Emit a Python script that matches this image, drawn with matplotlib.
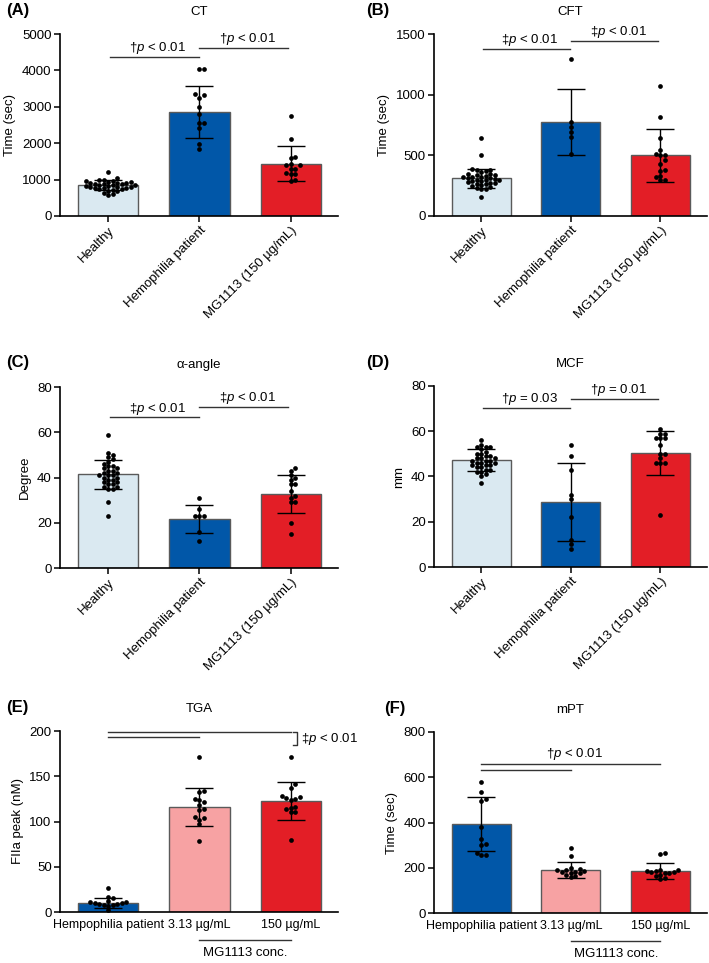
import numpy as np
import matplotlib
matplotlib.use('Agg')
import matplotlib.pyplot as plt
from matplotlib.transforms import blended_transform_factory

plt.rcParams['font.family'] = ['Liberation Sans', 'DejaVu Sans']
plt.rcParams['mathtext.fontset'] = 'custom'
plt.rcParams['mathtext.rm'] = 'Liberation Sans'
plt.rcParams['mathtext.it'] = 'Liberation Sans:italic'
plt.rcParams['font.size'] = 9

# ---------------- data ----------------
groups_abcd = ["Healthy", "Hemophilia patient", "MG1113 (150 µg/mL)"]
groups_ef = ["Hempophilia patient", "3.13 µg/mL", "150 µg/mL"]

# (A) CT
ct_means = [850, 2860, 1440]
ct_sds = [140, 715, 475]
ct_healthy = [1220, 1050, 1000, 980, 960, 950, 940, 930, 920, 910, 900, 890, 880, 870,
              860, 850, 840, 830, 820, 810, 800, 790, 780, 770, 760, 750, 740, 720, 700,
              680, 640, 600, 570]
ct_hemo = [4030, 4030, 3340, 3330, 3240, 3000, 2790, 2545, 2545, 2430, 1980, 1830]
ct_mg = [2760, 2125, 1610, 1600, 1420, 1400, 1390, 1300, 1290, 1180, 1160, 1150, 1000, 960]

# (B) CFT
cft_means = [310, 775, 500]
cft_sds = [80, 272, 218]
cft_healthy = [640, 500, 390, 380, 375, 370, 360, 350, 345, 340, 335, 330, 325, 320, 318,
               315, 310, 305, 300, 298, 295, 290, 285, 280, 275, 270, 265, 260, 255, 250,
               240, 230, 225, 220, 160]
cft_hemo = [1296, 774, 736, 691, 651, 513]
cft_mg = [1075, 820, 640, 540, 510, 505, 500, 460, 430, 380, 370, 330, 320, 300, 295]

# (C) alpha-angle
aa_means = [41.4, 21.7, 32.7]
aa_sds = [6.4, 6.3, 8.2]
aa_healthy = [59, 51, 50, 49, 48, 47, 46, 45, 45, 44, 44, 43, 43, 42, 42, 41, 41, 41, 40, 40,
              39, 39, 38, 38, 37, 37, 36, 36, 35, 35, 29, 23]
aa_hemo = [31, 26, 23, 23, 23, 16, 12]
aa_mg = [44, 43, 41, 40, 39, 37, 37, 34, 32, 31, 29, 29, 20, 15]

# (D) MCF
mcf_means = [47.3, 28.6, 50.5]
mcf_sds = [5.0, 17.3, 9.8]
mcf_healthy = [56, 54, 53, 53, 53, 52, 51, 50, 50, 49, 49, 48, 48, 48, 47, 47, 47, 46, 46, 46,
               45, 45, 45, 44, 44, 43, 43, 42, 42, 41, 40, 37]
mcf_hemo = [54, 49, 43, 32, 30, 22, 12, 10, 8]
mcf_mg = [61, 59, 59, 57, 57, 57, 54, 50, 50, 48, 46, 46, 46, 23]

# (E) TGA
tga_means = [10, 116.5, 122.6]
tga_sds = [6, 21, 20.5]
tga_hemo = [26, 17, 15, 12, 11, 11, 10, 10, 9, 9, 8, 8, 7, 2]
tga_313 = [171, 134, 133, 125, 124, 121, 118, 114, 113, 105, 104, 102, 97, 78]
tga_150 = [171, 141, 137, 128, 127, 126, 125, 124, 116, 115, 114, 110, 110, 80]

# (F) mPT
mpt_means = [392, 190, 184]
mpt_sds = [120, 37, 35]
mpt_hemo = [578, 535, 505, 495, 380, 325, 305, 300, 265, 258, 255]
mpt_313 = [286, 252, 200, 195, 192, 190, 185, 183, 180, 178, 175, 170, 162, 158]
mpt_150 = [267, 260, 190, 188, 186, 185, 183, 180, 178, 175, 170, 165, 155, 150]

LIGHT = '#dae9f1'
BLUE = '#0157a8'
RED = '#e31e26'
PINK = '#f7a2a3'
EDGE = '#5a5a5a'

W, H = 709, 963
fig = plt.figure(figsize=(W / 100, H / 100), dpi=100)


def make_ax(left, right, top, bottom):
    return fig.add_axes([left / W, 1 - bottom / H, (right - left) / W, (bottom - top) / H])


def swarm(vals, px_x, px_y, d=4.5):
    vals = np.asarray(vals, float)
    order = np.argsort(vals)
    placed = []
    offs = np.zeros(len(vals))
    for i in order:
        y = vals[i] * px_y
        cand = 0.0
        for k in range(60):
            cand = 0.0 if k == 0 else ((k + 1) // 2) * d * (1 if k % 2 else -1)
            if all((cand - a) ** 2 + (y - b) ** 2 >= 0.85 * d * d for a, b in placed):
                break
        placed.append((cand, y))
        offs[i] = cand / px_x
    return offs


XL = (-0.53, 2.52)


def panel(ax, means, sds, pts, colors, ylim, yticks, ylabel, title):
    ax.set_xlim(*XL)
    ax.set_ylim(*ylim)
    x = np.arange(3)
    ax.bar(x, means, width=0.66, color=colors, edgecolor=EDGE, linewidth=1.0, zorder=2)
    ax.errorbar(x, means, yerr=sds, fmt='none', ecolor='black', elinewidth=1.0,
                capsize=10, capthick=1.0, zorder=3)
    bb = ax.get_position()
    px_x = bb.width * W / (XL[1] - XL[0])
    px_y = bb.height * H / (ylim[1] - ylim[0])
    for i, p in enumerate(pts):
        offs = swarm(p, px_x, px_y)
        ax.plot(i + offs, p, 'o', color='black', markersize=3.4, markeredgewidth=0,
                zorder=4, clip_on=False)
    ax.set_yticks(yticks)
    ax.set_ylabel(ylabel, fontsize=9.5)
    ax.set_title(title, fontsize=9.5, pad=14)
    for s in ['top', 'right']:
        ax.spines[s].set_visible(False)
    for s in ['left', 'bottom']:
        ax.spines[s].set_linewidth(1.2)
    ax.tick_params(axis='both', width=1.1, length=4, labelsize=9.5, pad=2)
    ax.set_xticks(x)


def sig(ax, x0, x1, h, text, tx):
    ax.plot([x0, x1], [h, h], color='#333333', lw=1.0, clip_on=False, zorder=5)
    ax.annotate(text, xy=(tx, h), xytext=(0, 4), textcoords='offset points',
                ha='center', va='baseline', fontsize=9.5, annotation_clip=False)


# (A)
axA = make_ax(60, 338, 34, 216)
panel(axA, ct_means, ct_sds, [ct_healthy, ct_hemo, ct_mg], [LIGHT, BLUE, RED],
      (0, 5000), [0, 1000, 2000, 3000, 4000, 5000], 'Time (sec)', 'CT')
sig(axA, 0.02, 0.99, 4370, '†$p$ < 0.01', 0.54)
sig(axA, 1.0, 1.97, 4620, '†$p$ < 0.01', 1.53)

# (B)
axB = make_ax(434, 707, 34, 216)
panel(axB, cft_means, cft_sds, [cft_healthy, cft_hemo, cft_mg], [LIGHT, BLUE, RED],
      (0, 1500), [0, 500, 1000, 1500], 'Time (sec)', 'CFT')
sig(axB, 0.02, 0.99, 1376, '‡$p$ < 0.01', 0.54)
sig(axB, 1.0, 1.97, 1442, '‡$p$ < 0.01', 1.53)

# (C)
axC = make_ax(60, 338, 387, 568)
panel(axC, aa_means, aa_sds, [aa_healthy, aa_hemo, aa_mg], [LIGHT, BLUE, RED],
      (0, 80), [0, 20, 40, 60, 80], 'Degree', 'α-angle')
sig(axC, 0.02, 0.99, 66.7, '‡$p$ < 0.01', 0.54)
sig(axC, 1.0, 1.97, 71.2, '‡$p$ < 0.01', 1.53)

# (D)
axD = make_ax(434, 707, 386, 567)
panel(axD, mcf_means, mcf_sds, [mcf_healthy, mcf_hemo, mcf_mg], [LIGHT, BLUE, RED],
      (0, 80), [0, 20, 40, 60, 80], 'mm', 'MCF')
sig(axD, 0.02, 0.99, 70.3, '†$p$ = 0.03', 0.54)
sig(axD, 1.0, 1.97, 74.3, '†$p$ = 0.01', 1.53)

for ax in (axA, axB, axC, axD):
    ax.set_xticklabels(groups_abcd, rotation=45, ha='right', rotation_mode='anchor',
                       fontsize=9.5)

# (E)
axE = make_ax(60, 338, 731, 912)
panel(axE, tga_means, tga_sds, [tga_hemo, tga_313, tga_150], [BLUE, PINK, RED],
      (0, 200), [0, 50, 100, 150, 200], 'FIIa peak (nM)', 'TGA')
axE.plot([0, 2], [199, 199], color='#333333', lw=1.0, clip_on=False)
axE.plot([0, 1], [193, 193], color='#333333', lw=1.0, clip_on=False)
axE.plot([2.03, 2.07, 2.07, 2.03], [199, 199, 184, 184], color='#333333', lw=1.0,
         clip_on=False)
axE.text(2.11, 191, '‡$p$ < 0.01', ha='left', va='center', fontsize=9.5, clip_on=False)

# (F)
axF = make_ax(434, 707, 732, 913)
panel(axF, mpt_means, mpt_sds, [mpt_hemo, mpt_313, mpt_150], [BLUE, PINK, RED],
      (0, 800), [0, 200, 400, 600, 800], 'Time (sec)', 'mPT')
axF.plot([0, 2], [658, 658], color='#333333', lw=1.0, clip_on=False)
axF.plot([0, 1], [632, 632], color='#333333', lw=1.0, clip_on=False)
axF.annotate('†$p$ < 0.01', xy=(1.04, 658), xytext=(0, 5), textcoords='offset points',
             ha='center', va='baseline', fontsize=9.5, annotation_clip=False)

for ax in (axE, axF):
    ax.set_xticklabels(groups_ef, fontsize=9)
    ax.tick_params(axis='x', length=0, pad=5)
    tr = blended_transform_factory(ax.transData, ax.transAxes)
    ax.plot([1, 2], [-0.155, -0.155], color='#333333', lw=1.0, transform=tr, clip_on=False)
    ax.text(1.5, -0.225, 'MG1113 conc.', transform=tr, ha='center', va='center', fontsize=9.5)

# panel letters
for lab, x, y in [('(A)', 6, 10), ('(B)', 366, 10), ('(C)', 6, 363), ('(D)', 366, 363),
                  ('(E)', 6, 707), ('(F)', 384, 708)]:
    fig.text(x / W, 1 - y / H, lab, fontsize=12, fontweight='bold', ha='left', va='center')

fig.savefig('out.png', dpi=100)
